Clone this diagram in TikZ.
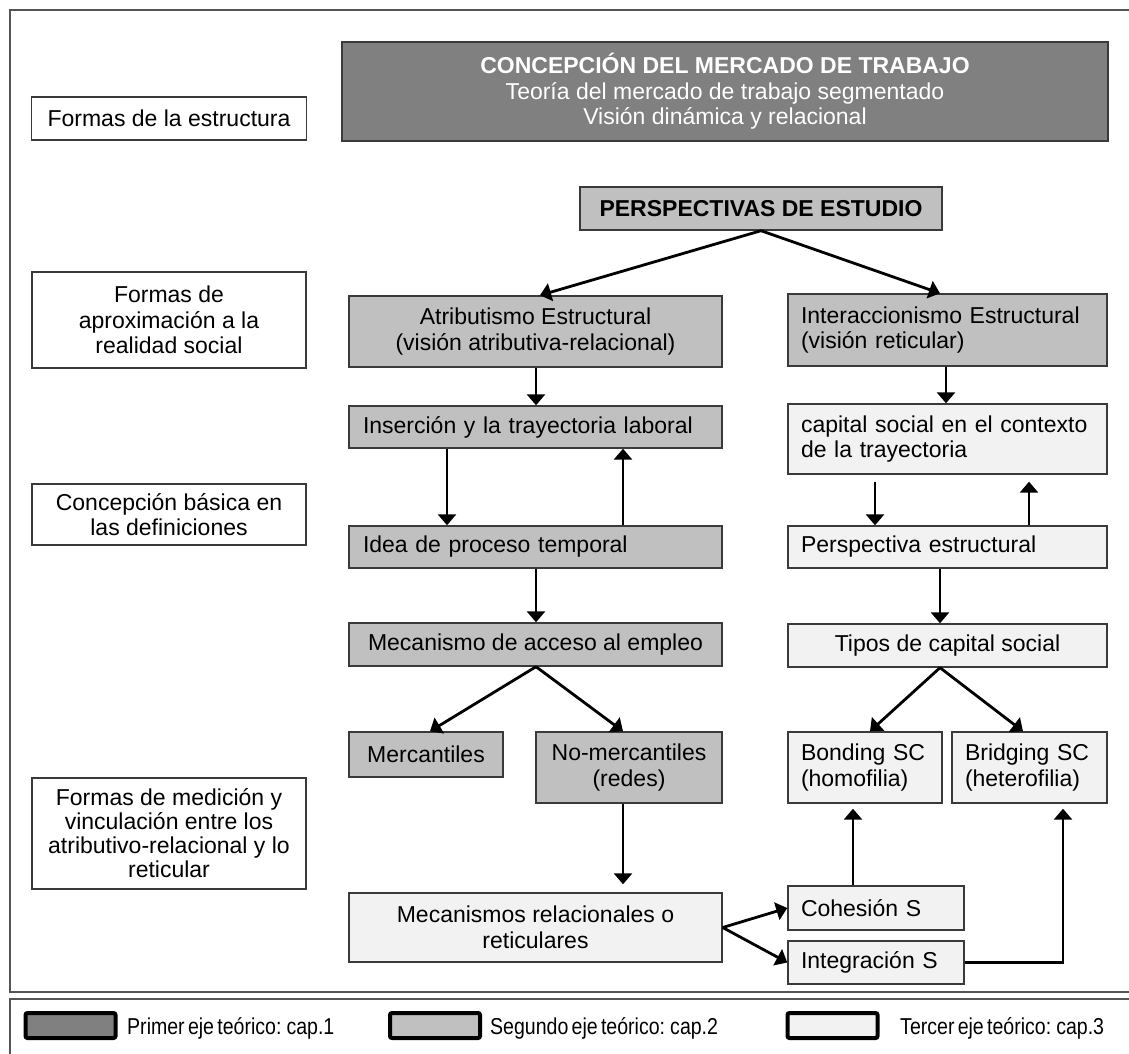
\documentclass[tikz,border=0pt]{standalone}
\usepackage{fontspec}
\setmainfont{Liberation Sans}
\newfontfamily\legendfont{Liberation Sans}[FakeStretch=0.85, WordSpace=0.6]
\usetikzlibrary{arrows.meta}

\definecolor{fillA}{HTML}{808080}
\definecolor{fillB}{HTML}{C0C0C0}
\definecolor{fillC}{HTML}{F2F2F2}
\definecolor{edge}{HTML}{3A3A3A}
\definecolor{framegray}{HTML}{555555}

\tikzset{
  box/.style={draw=edge, line width=1.4pt, inner xsep=16pt, inner ysep=2pt,
    font=\fontsize{23}{25.5}\selectfont, text=black},
  darkbox/.style={box, fill=fillA, text=white},
  midbox/.style={box, fill=fillB},
  lightbox/.style={box, fill=fillC},
  plainbox/.style={box, fill=white},
  arr/.style={line width=2.8pt, draw=black,
    -{Triangle[width=18pt,length=11pt]}},
  legbox/.style={draw=black, line width=4pt, rounded corners=2pt,
    minimum width=90pt, minimum height=25pt, inner sep=0pt},
  legtext/.style={anchor=base west, inner sep=0pt,
    font=\legendfont\fontsize{23}{25}\selectfont}
}

\begin{document}
\begin{tikzpicture}[x=1pt, y=-1pt]
\useasboundingbox (0,0) rectangle (1129,1054);
\clip (0,0) rectangle (1129,1054);

% outer frames
\draw[framegray, line width=2pt] (1140,10) -- (10,10) -- (10,992) -- (1140,992);
\draw[framegray, line width=2pt] (1140,999) -- (10,999) -- (10,1070);

% column guides for connectors
\coordinate (xA) at (447,0);
\coordinate (xB) at (623,0);
\coordinate (xC) at (875,0);
\coordinate (xD) at (1029,0);
\coordinate (xE) at (430,0);
\coordinate (xF) at (870,0);
\coordinate (xG) at (1023,0);
\coordinate (xH) at (853,0);
\coordinate (xI) at (1063,0);
\coordinate (xJ) at (540,0);
\coordinate (xK) at (940,0);
\coordinate (xL) at (536,0);
\coordinate (xM) at (946,0);

% left-hand labels
\node[plainbox, align=center, minimum width=274pt, minimum height=43pt] (lab1) at (169,118.5) {Formas de la estructura};
\node[plainbox, align=center, minimum width=274pt, minimum height=96pt] (lab2) at (169,320) {Formas de\\aproximación a la\\realidad social};
\node[plainbox, align=center, minimum width=274pt, minimum height=61pt] (lab3) at (169,514.5) {Concepción básica en\\las definiciones};
\node[plainbox, align=center, minimum width=274pt, minimum height=111pt, inner xsep=4pt, font=\fontsize{23}{24}\selectfont] (lab4) at (169,833.5) {Formas de medición y\\vinculación entre los\\atributivo-relacional y lo\\reticular};

% top
\node[darkbox, align=center, minimum width=766pt, minimum height=99pt] (top) at (725,91.5) {\textbf{CONCEPCIÓN DEL MERCADO DE TRABAJO}\\Teoría del mercado de trabajo segmentado\\Visión dinámica y relacional};
\node[midbox, align=center, minimum width=362pt, minimum height=43pt] (persp) at (761,208.5) {\textbf{PERSPECTIVAS DE ESTUDIO}};

% left column
\node[midbox, align=center, minimum width=373pt, minimum height=71pt] (atr) at (535.5,331.5) {Atributismo Estructural\\(visión atributiva-relacional)};
\node[midbox, text width=345pt, inner xsep=14pt, align=left, minimum height=42pt] (ins) at (535.5,427) {Inserción y la trayectoria laboral};
\node[midbox, text width=345pt, inner xsep=14pt, align=left, minimum height=42pt] (idea) at (535.5,547) {Idea de proceso temporal};
\node[midbox, align=center, minimum width=373pt, minimum height=43pt] (meca) at (535.5,644.5) {Mecanismo de acceso al empleo};
\node[midbox, align=center, minimum width=154pt, minimum height=45pt, inner xsep=4pt] (merc) at (426,754.5) {Mercantiles};
\node[midbox, align=center, minimum width=186pt, minimum height=71pt, inner xsep=4pt] (nomerc) at (629,767.5) {No-mercantiles\\(redes)};
\node[lightbox, align=center, minimum width=373pt, minimum height=69pt] (rel) at (535.5,927.5) {Mecanismos relacionales o\\reticulares};

% right column
\node[midbox, inner xsep=13pt, text width=293pt, align=left, minimum height=72pt] (inter) at (947.5,330) {Interaccionismo Estructural\\(visión reticular)};
\node[lightbox, inner xsep=13pt, text width=293pt, align=left, minimum height=70pt] (cap) at (947.5,439) {capital social en el contexto\\de la trayectoria};
\node[lightbox, inner xsep=13pt, text width=293pt, align=left, minimum height=42pt] (persp2) at (947.5,547) {Perspectiva estructural};
\node[lightbox, align=center, minimum width=319pt, minimum height=43pt] (tipos) at (947.5,645.5) {Tipos de capital social};
\node[lightbox, inner xsep=13pt, text width=128pt, align=left, minimum height=71pt] (bond) at (865,767.5) {Bonding SC\\(homofilia)};
\node[lightbox, inner xsep=13pt, text width=129pt, align=left, minimum height=71pt] (brid) at (1029.5,767.5) {Bridging SC\\(heterofilia)};
\node[lightbox, inner xsep=13pt, text width=150pt, align=left, minimum height=44pt] (coh) at (876,908) {Cohesión S};
\node[lightbox, inner xsep=13pt, text width=150pt, align=left, minimum height=43pt] (integ) at (876,962.5) {Integración S};

% connectors
\draw[arr] (persp.south) -- (atr.north -| xJ);
\draw[arr] (persp.south) -- (inter.north -| xK);
\draw[arr] (atr.south -| xL) -- (ins.north -| xL);
\draw[arr] (ins.south -| xA) -- (idea.north -| xA);
\draw[arr] (idea.north -| xB) -- (ins.south -| xB);
\draw[arr] (idea.south -| xL) -- (meca.north -| xL);
\draw[arr] (meca.south -| xL) -- (merc.north -| xE);
\draw[arr] (meca.south -| xL) -- (nomerc.north -| xB);
\draw[arr, shorten >=8pt] (nomerc.south -| xB) -- (rel.north -| xB);
\draw[arr] (rel.east) -- (coh.west);
\draw[arr] (rel.east) -- (integ.west);
\draw[arr] (inter.south -| xM) -- (cap.north -| xM);
\draw[arr, shorten <=7pt] (cap.south -| xC) -- (persp2.north -| xC);
\draw[arr, shorten >=7pt] (persp2.north -| xD) -- (cap.south -| xD);
\draw[arr] (persp2.south -| xK) -- (tipos.north -| xK);
\draw[arr] (tipos.south -| xK) -- (bond.north -| xF);
\draw[arr] (tipos.south -| xK) -- (brid.north -| xG);
\draw[arr, shorten >=5pt] (coh.north -| xH) -- (bond.south -| xH);
\draw[arr, shorten >=5pt] (integ.east) -| (brid.south -| xI);

% legend
\node[legbox, fill=fillA] (leg1) at (70.5,1025.5) {};
\node[legtext] (legt1) at (127,1034) {Primer eje teórico: cap.1};
\node[legbox, fill=fillB] (leg2) at (435,1025.5) {};
\node[legtext] (legt2) at (490,1034) {Segundo eje teórico: cap.2};
\node[legbox, fill=fillC] (leg3) at (832.5,1025.5) {};
\node[legtext] (legt3) at (900,1034) {Tercer eje teórico: cap.3};
\end{tikzpicture}
\end{document}
